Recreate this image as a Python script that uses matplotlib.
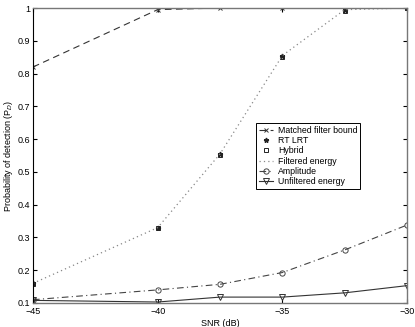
import numpy as np
from matplotlib import pyplot as plt

snr = [-45, -40, -37.5, -35, -32.5, -30]
matched = [0.82, 0.995, 1.0, 1.0, 1.0, 1.0]
rt_lrt = [0.16, 0.33, 0.555, 0.855, 0.995, 1.0]
hybrid = [0.158, 0.328, 0.552, 0.852, 0.99, 1.0]
filtered = [0.16, 0.33, 0.555, 0.855, 0.995, 1.0]
amplitude = [0.11, 0.14, 0.157, 0.193, 0.262, 0.338]
unfiltered = [0.108, 0.103, 0.118, 0.118, 0.131, 0.153]

plt.rcParams['font.family'] = ['Liberation Sans', 'DejaVu Sans']
fig = plt.figure(figsize=(4.15, 3.27), dpi=100)
ax = fig.add_axes([0.0795, 0.0734, 0.9015, 0.9021])

ax.plot(snr, matched, color='#333333', ls=(0, (6, 4)), lw=0.8, marker='x', ms=3.5,
        mew=0.7, label='Matched filter bound')
ax.plot(snr, rt_lrt, ls='none', color='#222222', marker='*', ms=3.5, label='RT LRT')
ax.plot(snr, hybrid, ls='none', color='#222222', marker='s', ms=3.5, mfc='none',
        mew=0.7, label='Hybrid')
ax.plot(snr, filtered, color='#888888', ls=(0, (1, 2.5)), lw=0.9, label='Filtered energy')
ax.plot(snr, amplitude, color='#444444', ls=(0, (6, 3, 1, 3)), lw=0.8, marker='o', ms=3.8,
        mfc='none', mew=0.7, label='Amplitude')
ax.plot(snr, unfiltered, color='#333333', ls='-', lw=0.8, marker='v', ms=3.8,
        mfc='none', mew=0.7, label='Unfiltered energy')

ax.set_xlim(-45, -30)
ax.set_ylim(0.1, 1.0)
ax.set_xticks([-45, -40, -35, -30])
ax.set_xticklabels(['\u221245', '\u221240', '\u221235', '\u221230'])
ax.set_yticks(np.arange(0.1, 1.01, 0.1))
ax.set_yticklabels(['0.1', '0.2', '0.3', '0.4', '0.5', '0.6', '0.7', '0.8', '0.9', '1'])
ax.tick_params(direction='in', length=3, labelsize=6.5, top=True, right=True, pad=2)
ax.tick_params(axis='x', pad=3)
for s in ['top', 'right', 'bottom']:
    ax.spines[s].set_color('#777777')
    ax.spines[s].set_linewidth(1.0)
ax.spines['left'].set_color('black')

ax.set_xlabel('SNR (dB)', fontsize=6.5, labelpad=2)
ax.set_ylabel('Probability of detection (P$_D$)', fontsize=6.5, labelpad=2)

leg = ax.legend(loc='upper left', bbox_to_anchor=(0.596, 0.61), fontsize=6.3,
                fancybox=False, framealpha=1, edgecolor='black', handlelength=1.6,
                handletextpad=0.6, borderpad=0.3, labelspacing=0.15, borderaxespad=0)
leg.get_frame().set_linewidth(0.7)

fig.savefig('out.png', dpi=100)
